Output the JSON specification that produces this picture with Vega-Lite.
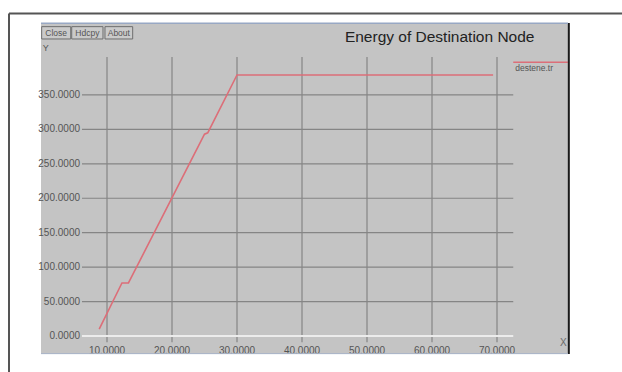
{
  "$schema": "https://vega.github.io/schema/vega-lite/v6.json",
  "width": 527,
  "height": 331,
  "autosize": {"type": "none"},
  "padding": {"left": 41, "top": 23, "right": 54, "bottom": 18},
  "background": "#ffffff",
  "view": {"fill": "#c4c4c4", "stroke": null},
  "config": {"font": "Liberation Sans"},
  "datasets": {
    "series": [
      {"t": 8.8, "e": 10},
      {"t": 12.3, "e": 77},
      {"t": 13.3, "e": 77},
      {"t": 25.0, "e": 293},
      {"t": 25.5, "e": 295},
      {"t": 30.0, "e": 379},
      {"t": 69.4, "e": 379}
    ],
    "xticks": [{"v": 10}, {"v": 20}, {"v": 30}, {"v": 40}, {"v": 50}, {"v": 60}, {"v": 70}],
    "yticks": [{"v": 50}, {"v": 100}, {"v": 150}, {"v": 200}, {"v": 250}, {"v": 300}, {"v": 350}],
    "ylabels": [{"v": 0}, {"v": 50}, {"v": 100}, {"v": 150}, {"v": 200}, {"v": 250}, {"v": 300}, {"v": 350}],
    "buttons": [
      {"label": "Close", "a": -0.05, "b": 4.42, "m": 2.18},
      {"label": "Hdcpy", "a": 4.57, "b": 9.38, "m": 6.98},
      {"label": "About", "a": 9.69, "b": 13.95, "m": 11.82}
    ]
  },
  "layer": [
    {
      "data": {"name": "xticks"},
      "mark": {"type": "rule", "color": "#858585", "strokeWidth": 1.2},
      "encoding": {
        "x": {"field": "v", "type": "quantitative", "scale": {"domain": [-0.154, 80.923], "nice": false, "zero": false}, "axis": null},
        "y": {"datum": -9, "type": "quantitative", "scale": {"domain": [-26.14, 454.5], "nice": false, "zero": false}, "axis": null},
        "y2": {"datum": 405}
      }
    },
    {
      "data": {"name": "yticks"},
      "mark": {"type": "rule", "color": "#858585", "strokeWidth": 1.2},
      "encoding": {
        "y": {"field": "v", "type": "quantitative"},
        "x": {"datum": 6.15, "type": "quantitative"},
        "x2": {"datum": 72.5}
      }
    },
    {
      "data": {"values": [{"v": 0}]},
      "mark": {"type": "rule", "color": "#ececec", "strokeWidth": 2},
      "encoding": {
        "y": {"field": "v", "type": "quantitative"},
        "x": {"datum": 6.15, "type": "quantitative"},
        "x2": {"datum": 72.5}
      }
    },
    {
      "data": {"name": "ylabels"},
      "mark": {"type": "text", "align": "right", "baseline": "middle", "fontSize": 10, "color": "#555555"},
      "encoding": {
        "y": {"field": "v", "type": "quantitative"},
        "x": {"datum": 5.85, "type": "quantitative"},
        "text": {"field": "v", "type": "quantitative", "format": ".4f"}
      }
    },
    {
      "data": {"name": "xticks"},
      "mark": {"type": "text", "align": "center", "baseline": "middle", "fontSize": 10, "color": "#555555"},
      "encoding": {
        "x": {"field": "v", "type": "quantitative"},
        "y": {"datum": -21.8, "type": "quantitative"},
        "text": {"field": "v", "type": "quantitative", "format": ".4f"}
      }
    },
    {
      "data": {"name": "series"},
      "mark": {"type": "line", "color": "#dc6e78", "strokeWidth": 1.6},
      "encoding": {
        "x": {"field": "t", "type": "quantitative"},
        "y": {"field": "e", "type": "quantitative"}
      }
    },
    {
      "data": {"values": [{"label": "destene.tr"}]},
      "mark": {"type": "rule", "color": "#dc6e78", "strokeWidth": 1.6},
      "encoding": {
        "y": {"datum": 397.5, "type": "quantitative"},
        "x": {"datum": 72.5, "type": "quantitative"},
        "x2": {"datum": 80.9}
      }
    },
    {
      "data": {"values": [{"label": "destene.tr"}]},
      "mark": {"type": "text", "align": "left", "baseline": "middle", "fontSize": 8.5, "color": "#555555"},
      "encoding": {
        "x": {"datum": 72.8, "type": "quantitative"},
        "y": {"datum": 389, "type": "quantitative"},
        "text": {"field": "label"}
      }
    },
    {
      "data": {"values": [{"label": "Energy of Destination Node"}]},
      "mark": {"type": "text", "align": "left", "baseline": "alphabetic", "fontSize": 15.5, "color": "#222222"},
      "encoding": {
        "x": {"datum": 46.6, "type": "quantitative"},
        "y": {"datum": 427.5, "type": "quantitative"},
        "text": {"field": "label"}
      }
    },
    {
      "data": {"values": [{"label": "Y"}]},
      "mark": {"type": "text", "align": "left", "baseline": "middle", "fontSize": 9, "color": "#555555"},
      "encoding": {
        "x": {"datum": 0.1, "type": "quantitative"},
        "y": {"datum": 418, "type": "quantitative"},
        "text": {"field": "label"}
      }
    },
    {
      "data": {"values": [{"label": "X"}]},
      "mark": {"type": "text", "align": "center", "baseline": "middle", "fontSize": 10, "color": "#6a6a6a"},
      "encoding": {
        "x": {"datum": 80.2, "type": "quantitative"},
        "y": {"datum": -10.2, "type": "quantitative"},
        "text": {"field": "label"}
      }
    },
    {
      "data": {"name": "buttons"},
      "mark": {"type": "rect", "fill": "#cacaca", "stroke": "#6e6e6e", "strokeWidth": 1},
      "encoding": {
        "x": {"field": "a", "type": "quantitative"},
        "x2": {"field": "b"},
        "y": {"datum": 449.2, "type": "quantitative"},
        "y2": {"datum": 431.3}
      }
    },
    {
      "data": {"name": "buttons"},
      "mark": {"type": "text", "align": "center", "baseline": "middle", "fontSize": 8.5, "color": "#555555"},
      "encoding": {
        "x": {"field": "m", "type": "quantitative"},
        "y": {"datum": 440.2, "type": "quantitative"},
        "text": {"field": "label"}
      }
    },
    {
      "data": {"values": [{"k": 1}]},
      "mark": {"type": "rule", "color": "#1a1a1a", "strokeWidth": 2},
      "encoding": {
        "x": {"datum": 81.05, "type": "quantitative"},
        "y": {"datum": -26.14, "type": "quantitative"},
        "y2": {"datum": 454.5}
      }
    },
    {
      "data": {"values": [{"k": 1}]},
      "mark": {"type": "rule", "color": "#98a8c4", "strokeWidth": 1.5},
      "encoding": {
        "y": {"datum": 454, "type": "quantitative"},
        "x": {"datum": -0.154, "type": "quantitative"},
        "x2": {"datum": 80.923}
      }
    },
    {
      "data": {"values": [{"k": 1}]},
      "mark": {"type": "rule", "color": "#a8b4c8", "strokeWidth": 1},
      "encoding": {
        "y": {"datum": -25.6, "type": "quantitative"},
        "x": {"datum": -0.154, "type": "quantitative"},
        "x2": {"datum": 80.923}
      }
    },
    {
      "data": {"values": [{"k": 1}]},
      "mark": {"type": "rule", "color": "#555555", "strokeWidth": 2},
      "encoding": {
        "x": {"datum": -5.077, "type": "quantitative"},
        "y": {"datum": -52.3, "type": "quantitative"},
        "y2": {"datum": 468.3}
      }
    },
    {
      "data": {"values": [{"k": 1}]},
      "mark": {"type": "rule", "color": "#555555", "strokeWidth": 2},
      "encoding": {
        "y": {"datum": 468.3, "type": "quantitative"},
        "x": {"datum": -5.077, "type": "quantitative"},
        "x2": {"datum": 89.3}
      }
    }
  ]
}
